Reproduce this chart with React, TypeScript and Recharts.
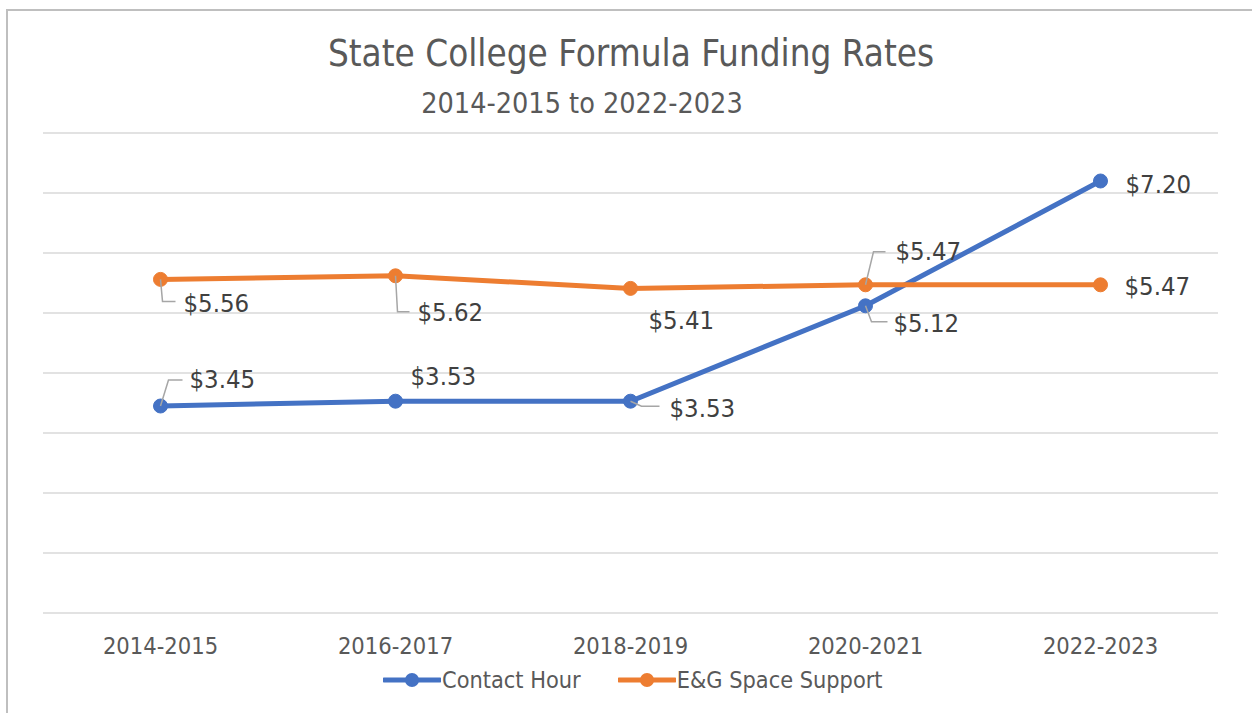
import React from 'react';
import { LineChart, Line, XAxis, YAxis, CartesianGrid, LabelList } from 'recharts';

const periods = ['2014-2015', '2016-2017', '2018-2019', '2020-2021', '2022-2023'];
const contactHour = [3.45, 3.53, 3.53, 5.12, 7.2];
const spaceSupport = [5.56, 5.62, 5.41, 5.47, 5.47];
const yTicks = [0, 1, 2, 3, 4, 5, 6, 7, 8];

const data = periods.map((p, i) => ({
  period: p,
  contact: contactHour[i],
  space: spaceSupport[i],
}));

const FONT = '"DejaVu Sans Condensed", "DejaVu Sans", sans-serif';
const BLUE = '#4472C4';
const ORANGE = '#ED7D31';

type Placement = { dx: number; dy: number; leader: number[][] | null };

// label placement relative to each point, with optional leader lines
const contactPlace: Placement[] = [
  { dx: 29, dy: -27, leader: [[0, 0], [8, -26], [22, -26]] },
  { dx: 15, dy: -25, leader: null },
  { dx: 39, dy: 7, leader: [[0, 0], [11, 5], [29, 5]] },
  { dx: 28, dy: 17, leader: [[0, 0], [6, 16], [22, 16]] },
  { dx: 25, dy: 3, leader: null },
];
const spacePlace: Placement[] = [
  { dx: 23, dy: 24, leader: [[0, 0], [2, 22], [15, 22]] },
  { dx: 22, dy: 36, leader: [[0, 0], [2, 36], [14, 36]] },
  { dx: 18, dy: 32, leader: null },
  { dx: 30, dy: -34, leader: [[0, 0], [8, -33], [20, -33]] },
  { dx: 24, dy: 1, leader: null },
];

const makeLabel = (place: Placement[]) => (props: any) => {
  const { x, y, value, index } = props;
  const p = place[index];
  return (
    <g>
      {p.leader && (
        <polyline
          points={p.leader.map(([a, b]) => `${x + a},${y + b}`).join(' ')}
          fill="none"
          stroke="#a6a6a6"
          strokeWidth={1.5}
        />
      )}
      <text
        x={x + p.dx}
        y={y + p.dy}
        dominantBaseline="central"
        fontFamily={FONT}
        fontSize={25.5}
        fill="#404040"
      >
        ${Number(value).toFixed(2)}
      </text>
    </g>
  );
};

const LegendItem = ({ color, label }: { color: string; label: string }) => (
  <div style={{ display: 'flex', alignItems: 'center' }}>
    <svg width={58} height={16}>
      <line x1={1} y1={8} x2={57} y2={8} stroke={color} strokeWidth={5} strokeLinecap="round" />
      <circle cx={29} cy={8} r={7} fill={color} />
    </svg>
    <span style={{ marginLeft: 1 }}>{label}</span>
  </div>
);

export default function App() {
  return (
    <div
      style={{
        position: 'absolute',
        left: 0,
        top: 0,
        width: 1252,
        height: 713,
        overflow: 'hidden',
        background: '#fff',
        fontFamily: FONT,
      }}
    >
      <div
        style={{
          position: 'absolute',
          left: 6,
          top: 9,
          width: 1300,
          height: 800,
          border: '2px solid #bfbfbf',
        }}
      />
      <div
        style={{
          position: 'absolute',
          left: 0,
          width: 1262,
          top: 32,
          textAlign: 'center',
          fontSize: 36.5,
          color: '#595959',
        }}
      >
        State College Formula Funding Rates
      </div>
      <div
        style={{
          position: 'absolute',
          left: 0,
          width: 1164,
          top: 87,
          textAlign: 'center',
          fontSize: 28.5,
          color: '#595959',
        }}
      >
        2014-2015 to 2022-2023
      </div>
      <div style={{ position: 'absolute', left: 0, top: 0 }}>
        <LineChart
          width={1252}
          height={713}
          data={data}
          margin={{ top: 133, right: 34, bottom: 70, left: 43 }}
        >
          <CartesianGrid vertical={false} stroke="#d9d9d9" strokeWidth={1.5} />
          <XAxis
            dataKey="period"
            axisLine={false}
            tickLine={false}
            height={30}
            padding={{ left: 117.5, right: 117.5 }}
            interval={0}
            tick={{ fontSize: 23.5, fill: '#595959', fontFamily: FONT }}
            tickMargin={18}
          />
          <YAxis hide domain={[0, 8]} ticks={yTicks} />
          <Line
            dataKey="contact"
            stroke={BLUE}
            strokeWidth={5}
            dot={{ r: 7, fill: BLUE, stroke: BLUE, strokeWidth: 1 }}
            isAnimationActive={false}
          >
            <LabelList dataKey="contact" content={makeLabel(contactPlace)} />
          </Line>
          <Line
            dataKey="space"
            stroke={ORANGE}
            strokeWidth={5}
            dot={{ r: 7, fill: ORANGE, stroke: ORANGE, strokeWidth: 1 }}
            isAnimationActive={false}
          >
            <LabelList dataKey="space" content={makeLabel(spacePlace)} />
          </Line>
        </LineChart>
      </div>
      <div
        style={{
          position: 'absolute',
          left: 383,
          top: 666,
          display: 'flex',
          gap: 37,
          fontSize: 23.3,
          color: '#595959',
        }}
      >
        <LegendItem color={BLUE} label="Contact Hour" />
        <LegendItem color={ORANGE} label="E&G Space Support" />
      </div>
    </div>
  );
}
